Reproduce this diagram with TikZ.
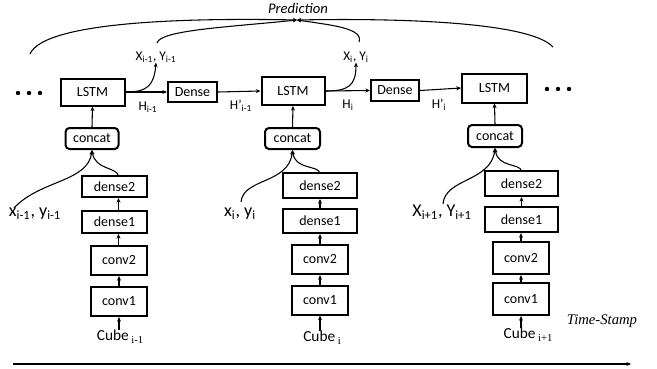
\documentclass[tikz,border=0pt]{standalone}
\usepackage{fontspec}
\setmainfont{Carlito}
\newfontfamily\timesfont{Liberation Serif}
\usetikzlibrary{arrows.meta}
\begin{document}
\begin{tikzpicture}[x=0.75pt,y=-0.75pt,
  sz/.style 2 args={minimum width=#1*0.75pt, minimum height=#2*0.75pt},
  blk/.style={draw, line width=1.5pt, inner sep=0pt, font=\fontsize{10.5}{12}\selectfont},
  rblk/.style={blk, rounded corners=3pt},
  lbl/.style={inner sep=0pt, font=\fontsize{10}{12}\selectfont},
  biglbl/.style={inner sep=0pt, font=\fontsize{13.5}{15}\selectfont},
  cubelbl/.style={inner sep=0pt, font=\fontsize{11.5}{13}\selectfont},
  conn/.style={line width=0.8pt, -{Stealth[length=3.5pt,width=3pt]}},
  arc/.style={line width=0.8pt}
]
\useasboundingbox (0,0) rectangle (657,368);

% top row
\node[blk, sz={64}{27}] (lstm1) at (92.5,92) {LSTM};
\node[blk, sz={49}{20}] (den1) at (192.5,92) {Dense};
\node[blk, sz={63}{28}] (lstm2) at (293,91) {LSTM};
\node[blk, sz={48}{21}] (den2) at (395,90.5) {Dense};
\node[blk, sz={65}{29}] (lstm3) at (494.5,88) {LSTM};

\foreach \x in {18,29,40} \fill (\x,93) circle (2.2);
\foreach \x in {547,558,569} \fill (\x,89) circle (2.2);

\draw[conn] (lstm1.east) -- (den1.west);
\draw[conn] (den1.east) -- (lstm2.west);
\draw[conn] (lstm2.east) -- (den2.west);
\draw[conn] (den2.east) -- (lstm3.west);

\node[lbl] (xy1) at (156,57) {X\textsubscript{i-1}, Y\textsubscript{i-1}};
\node[lbl] (xy2) at (356,57) {X\textsubscript{i}, Y\textsubscript{i}};
\draw[conn] (lstm1.east) .. controls (147,92) and (154,86) .. (xy1.south);
\draw[conn] (lstm2.east) .. controls (348,91) and (356,86) .. (xy2.south);

\node[lbl] (h1) at (148,107) {H\textsubscript{i-1}};
\node[lbl] (hp1) at (241,106) {H'\textsubscript{i-1}};
\node[lbl] (h2) at (348,105) {H\textsubscript{i}};
\node[lbl] (hp2) at (439,105) {H'\textsubscript{i}};

% prediction
\node[inner sep=0pt, font=\fontsize{11}{13}\selectfont\itshape] (predlbl) at (298,8) {Prediction};
\coordinate (pred) at (297,20);
\coordinate (bl) at (30,54);
\coordinate (br) at (553,47);
\coordinate (il) at (157,43);
\coordinate (ir) at (359,42);
\draw[arc,-{Stealth[length=3pt,width=3pt]}] (bl) .. controls (45,20) and (200,18) .. (pred);
\draw[arc,-{Stealth[length=3pt,width=3pt]}] (br) .. controls (530,22) and (400,18) .. (pred);
\draw[arc,-{Stealth[length=3pt,width=3pt]}] (il) .. controls (160,30) and (230,27) .. (pred);
\draw[arc,-{Stealth[length=3pt,width=3pt]}] (ir) .. controls (364,28) and (330,25) .. (pred);

% column 1
\node[rblk, sz={53}{21}] (cc1) at (92,138.5) {concat};
\node[blk, sz={65}{21}] (d21) at (114.5,186.5) {dense2};
\node[blk, sz={65}{22}] (d11) at (114.5,222) {dense1};
\node[blk, sz={56}{29}] (c21) at (119,260.5) {conv2};
\node[blk, sz={56}{29}] (c11) at (119,301.5) {conv1};
\node[cubelbl] (cube1) at (120,337) {Cube\,{\timesfont\fontsize{8}{9}\selectfont\raisebox{-2.5pt}{i-1}}};
\node[biglbl] (xl1) at (35,214) {x\textsubscript{i-1}, y\textsubscript{i-1}};

% column 2
\node[rblk, sz={55}{21}] (cc2) at (292.5,138.5) {concat};
\node[blk, sz={74}{25}] (d22) at (320,185.5) {dense2};
\node[blk, sz={74}{24}] (d12) at (320,221) {dense1};
\node[blk, sz={56}{29}] (c22) at (320,259.5) {conv2};
\node[blk, sz={56}{29}] (c12) at (320,300) {conv1};
\node[cubelbl] (cube2) at (322,338) {Cube\,{\timesfont\fontsize{8}{9}\selectfont\raisebox{-2.5pt}{i}}};
\node[biglbl] (xl2) at (240,214) {x\textsubscript{i}, y\textsubscript{i}};

% column 3
\node[rblk, sz={54}{22}] (cc3) at (495,136) {concat};
\node[blk, sz={73}{25}] (d23) at (521.5,183.5) {dense2};
\node[blk, sz={73}{25}] (d13) at (521.5,219.5) {dense1};
\node[blk, sz={56}{32}] (c23) at (521,258) {conv2};
\node[blk, sz={56}{32}] (c13) at (521,299) {conv1};
\node[cubelbl] (cube3) at (528,335) {Cube\,{\timesfont\fontsize{8}{9}\selectfont\raisebox{-2.5pt}{i+1}}};
\node[biglbl] (xl3) at (442,212) {X\textsubscript{i+1}, Y\textsubscript{i+1}};

% vertical connectors
\foreach \c in {1,2,3}{
  \draw[conn] (cc\c.north) -- (lstm\c.south);
  \draw[conn] (c1\c.north) -- (c2\c.south);
}
\draw[conn] (cube1.north -| c11.south) -- (c11.south);
\draw[conn] (cube2.north -| c12.south) -- (c12.south);
\draw[conn] (cube3.north -| c13.south) -- (c13.south);
\coordinate (t1) at (118.5,0);
\draw[conn] (c21.north -| t1) -- (d11.south -| t1);
\draw[conn] (d11.north -| t1) -- (d21.south -| t1);
\draw[conn] (c22.north) -- (c22.north |- d12.south);
\draw[conn] (c23.north) -- (c23.north |- d13.south);
\draw[conn] (d12.north) -- (d22.south);
\draw[conn] (d13.north) -- (d23.south);

% merge curves
\coordinate (s1) at (118.5,176);
\coordinate (s2) at (320,173);
\coordinate (s3) at (521.5,171);
\draw[conn] (s1) .. controls (117,167) and (95,170) .. (cc1.south);
\draw[conn] (s2) .. controls (318,165) and (295,170) .. (cc2.south);
\draw[conn] (s3) .. controls (520,163) and (498,168) .. (cc3.south);
\draw[conn] ([xshift=4pt]xl1.north west) .. controls (40,180) and (88,182) .. (cc1.south);
\draw[conn] (241,202) .. controls (243,178) and (289,184) .. (cc2.south);
\draw[conn] (443,204) .. controls (445,178) and (491,182) .. (cc3.south);

% time axis
\node[inner sep=0pt, font=\timesfont\itshape\fontsize{11}{13}\selectfont] (ts) at (602,321) {Time-Stamp};
\coordinate (t0) at (13,364);
\coordinate (tend) at (631,364);
\draw[conn] (t0) -- (tend);
\end{tikzpicture}
\end{document}
